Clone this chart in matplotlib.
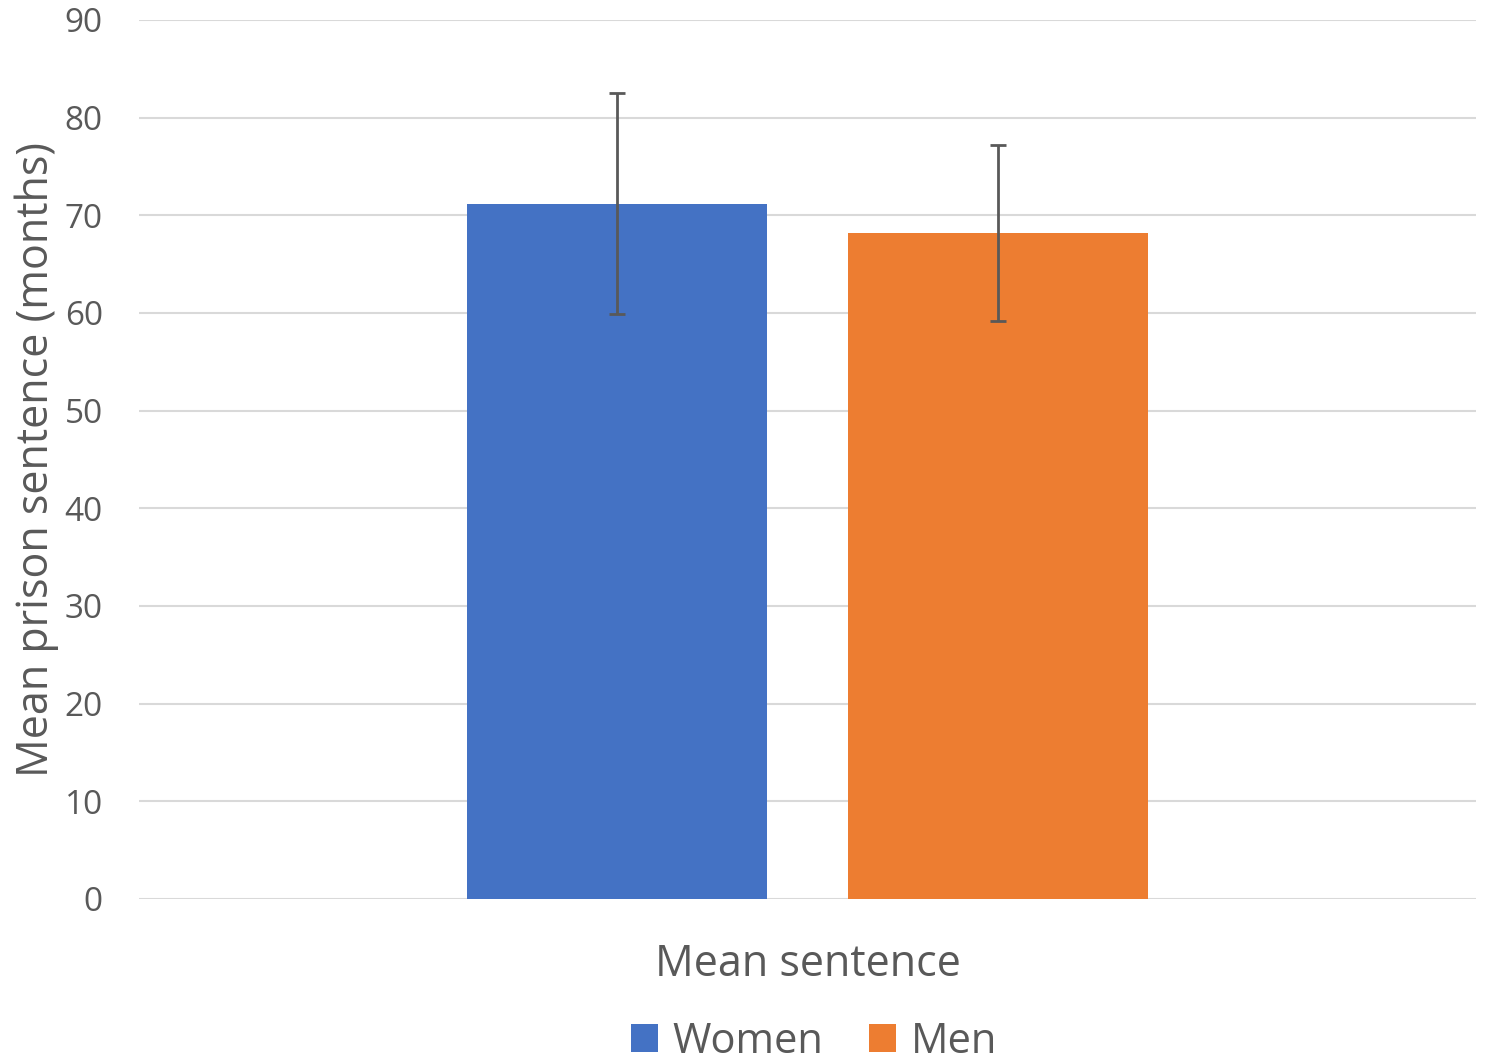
import matplotlib
matplotlib.use('Agg')
import matplotlib.pyplot as plt
from matplotlib.patches import Patch

# data
category = 'Mean sentence'
series = ['Women', 'Men']
means = [71.2, 68.2]
errors = [11.3, 9.0]
colors = ['#4472C4', '#ED7D31']
yticks = [0, 10, 20, 30, 40, 50, 60, 70, 80, 90]

plt.rcParams['font.family'] = ['Open Sans', 'DejaVu Sans']
text_color = '#595959'

fig = plt.figure(figsize=(14.91, 10.62), dpi=100)
ax = fig.add_axes([0.0932, 0.1535, 0.8968, 0.8277])

width = 0.2244
gap = 0.0606
offsets = [-(width + gap) / 2, (width + gap) / 2]
for off, m, e, c in zip(offsets, means, errors, colors):
    ax.bar(off, m, width=width, color=c, zorder=2)
    ax.errorbar(off, m, yerr=e, fmt='none', ecolor=text_color, elinewidth=2,
                capsize=6, capthick=2, zorder=3)

ax.set_xlim(-0.5, 0.5)
ax.set_ylim(0, 90)
ax.set_yticks(yticks)
ax.set_xticks([0])
ax.set_xticklabels([category], fontsize=31, color=text_color)
ax.tick_params(axis='y', labelsize=24, labelcolor=text_color, length=0, pad=26)
ax.tick_params(axis='x', length=0, pad=31)
ax.set_ylabel('Mean prison sentence (months)', fontsize=31, color=text_color, labelpad=4)

ax.grid(axis='y', color='#d9d9d9', linewidth=1.5, zorder=0)
ax.set_axisbelow(True)
for pos in ('top', 'bottom', 'left', 'right'):
    ax.spines[pos].set_visible(False)

handles = [Patch(facecolor=c, edgecolor='none') for c in colors]
fig.legend(handles, series, loc='lower center', bbox_to_anchor=(0.546, -0.036),
           ncol=2, frameon=False, fontsize=30, labelcolor=text_color,
           handlelength=0.65, handleheight=0.65, handletextpad=0.35, columnspacing=1.1)

fig.savefig('out.png', dpi=100)
